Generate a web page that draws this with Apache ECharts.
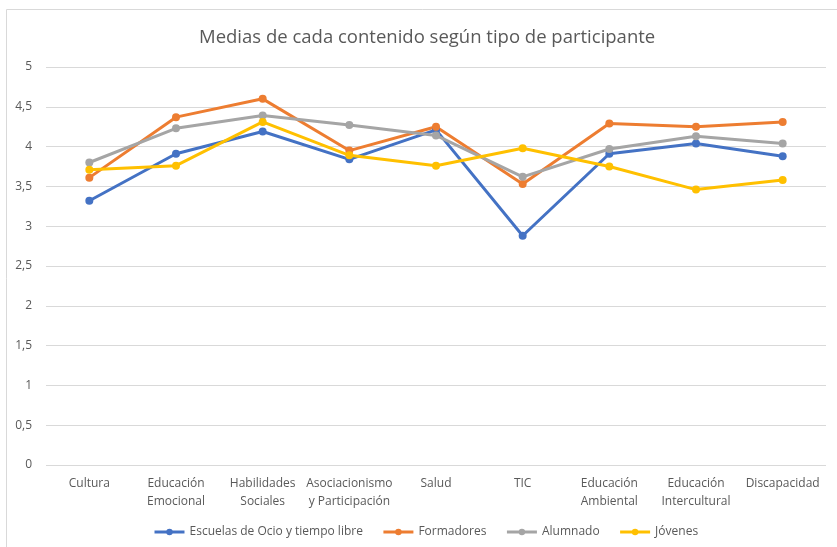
<!DOCTYPE html>
<html>
<head>
<meta charset="utf-8">
<script src="https://cdn.jsdelivr.net/npm/echarts@6/dist/echarts.min.js"></script>
<style>
  html, body { margin: 0; padding: 0; background: #fff; }
  #chart { width: 837px; height: 547px; }
</style>
</head>
<body>
<div id="chart"></div>
<script>
// categorías y valores
const categorias = ['Cultura', 'Educación\nEmocional', 'Habilidades\nSociales', 'Asociacionismo\ny Participación', 'Salud', 'TIC', 'Educación\nAmbiental', 'Educación\nIntercultural', 'Discapacidad'];
const escuelas = [3.32, 3.91, 4.19, 3.84, 4.21, 2.88, 3.91, 4.04, 3.88];
const formadores = [3.61, 4.37, 4.60, 3.95, 4.25, 3.53, 4.29, 4.25, 4.31];
const alumnado = [3.80, 4.23, 4.39, 4.27, 4.14, 3.62, 3.97, 4.13, 4.04];
const jovenes = [3.71, 3.76, 4.31, 3.89, 3.76, 3.98, 3.75, 3.46, 3.58];
const nombres = ['Escuelas de Ocio y tiempo libre', 'Formadores', 'Alumnado', 'Jóvenes'];
const colores = ['#4472C4', '#ED7D31', '#A5A5A5', '#FFC000'];

const font = 'Open Sans, sans-serif';
const chart = echarts.init(document.getElementById('chart'));

const serie = (name, data, color) => ({
  name: name,
  type: 'line',
  data: data,
  symbol: 'circle',
  symbolSize: 8,
  lineStyle: { width: 3, color: color },
  itemStyle: { color: color },
  animation: false
});

const option = {
  color: colores,
  title: {
    text: 'Medias de cada contenido según tipo de participante',
    left: 194,
    top: 23,
    textStyle: { fontFamily: font, fontSize: 18.5, fontWeight: 'normal', color: '#595959' }
  },
  legend: {
    top: 521,
    left: 148,
    itemWidth: 30,
    itemHeight: 8,
    itemGap: 19,
    lineStyle: { width: 3 },
    textStyle: { fontFamily: font, fontSize: 12, color: '#595959' },
    data: nombres
  },
  grid: { left: 46, right: 11, top: 67, bottom: 82 },
  xAxis: {
    type: 'category',
    data: categorias,
    axisLine: { show: false },
    axisTick: { show: false },
    axisLabel: { fontFamily: font, fontSize: 12, color: '#595959', lineHeight: 18, margin: 10, interval: 0 }
  },
  yAxis: {
    type: 'value',
    min: 0,
    max: 5,
    interval: 0.5,
    axisLine: { show: false },
    axisTick: { show: false },
    splitLine: { lineStyle: { color: '#D9D9D9', width: 1 } },
    axisLabel: {
      fontFamily: font, fontSize: 12, color: '#595959', margin: 14,
      formatter: v => String(v).replace('.', ',')
    }
  },
  graphic: [{
    type: 'rect',
    shape: { x: 6.5, y: 9.5, width: 840, height: 545 },
    style: { fill: 'none', stroke: '#D9D9D9', lineWidth: 1 },
    silent: true
  }],
  series: [
    serie(nombres[0], escuelas, colores[0]),
    serie(nombres[1], formadores, colores[1]),
    serie(nombres[2], alumnado, colores[2]),
    serie(nombres[3], jovenes, colores[3])
  ]
};

chart.setOption(option);
</script>
</body>
</html>
